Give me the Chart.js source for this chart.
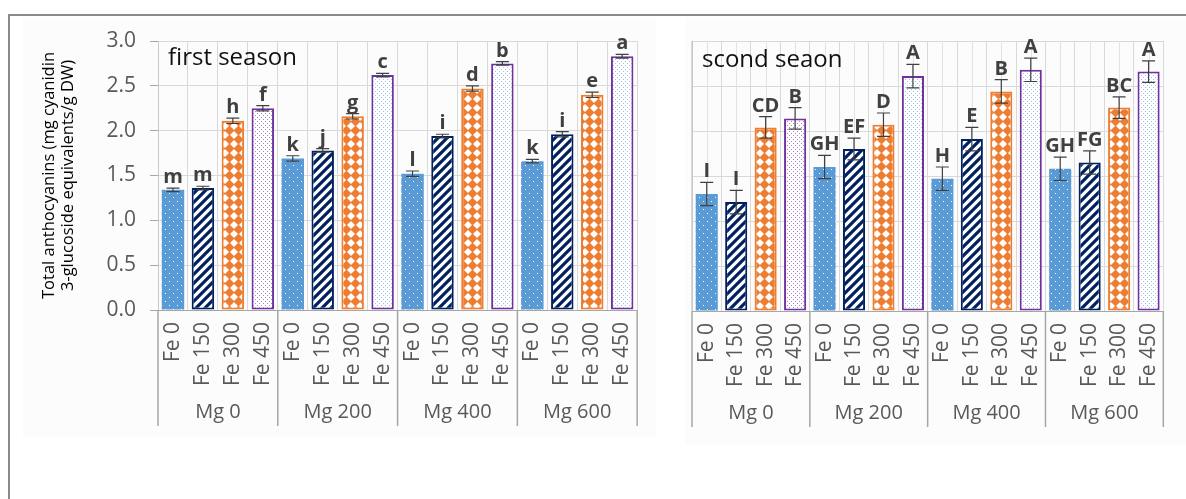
<!DOCTYPE html>
<html>
<head>
<meta charset="utf-8">
<script src="https://cdn.jsdelivr.net/npm/chart.js@4"></script>
<style>
  body { margin: 0; background: #fff; width: 1186px; height: 499px; overflow: hidden; position: relative; }
  #frame { position: absolute; left: 8px; top: 14px; width: 1300px; height: 600px; border-top: 2px solid #8a8a8a; border-left: 2px solid #8a8a8a; }
  .panel { position: absolute; background: #fcfcfc; }
  #p1 { left: 23px; top: 17px; width: 633px; height: 420px; }
  #p2 { left: 685px; top: 17px; width: 501px; height: 428px; }
  #c1 { position: absolute; left: 0; top: 0; }
  #c2 { position: absolute; left: 670px; top: 0; }
</style>
</head>
<body>
<div id="frame"></div>
<div class="panel" id="p1"></div>
<div class="panel" id="p2"></div>
<canvas id="c1" width="660" height="499"></canvas>
<canvas id="c2" width="516" height="499"></canvas>
<script>
(function () {
  const groups = ["Mg 0", "Mg 200", "Mg 400", "Mg 600"];
  const feLevels = ["Fe 0", "Fe 150", "Fe 300", "Fe 450"];
  const yTicks = [0, 0.5, 1, 1.5, 2, 2.5, 3];

  const firstSeason = [1.34, 1.36, 2.11, 2.25, 1.69, 1.78, 2.16, 2.62, 1.52, 1.94, 2.47, 2.75, 1.66, 1.96, 2.40, 2.83];
  const firstErr = [0.02, 0.02, 0.03, 0.03, 0.03, 0.02, 0.03, 0.02, 0.03, 0.02, 0.03, 0.02, 0.02, 0.03, 0.03, 0.02];
  const firstLetters = ["m", "m", "h", "f", "k", "j", "g", "c", "l", "i", "d", "b", "k", "i", "e", "a"];

  const secondSeason = [1.30, 1.21, 2.04, 2.14, 1.60, 1.80, 2.07, 2.61, 1.47, 1.91, 2.44, 2.68, 1.58, 1.65, 2.26, 2.66];
  const secondErr = [0.13, 0.13, 0.12, 0.12, 0.13, 0.12, 0.13, 0.13, 0.13, 0.13, 0.13, 0.13, 0.13, 0.13, 0.12, 0.12];
  const secondLetters = ["I", "I", "CD", "B", "GH", "EF", "D", "A", "H", "E", "B", "A", "GH", "FG", "BC", "A"];

  const labels = [];
  groups.forEach(() => feLevels.forEach((f) => labels.push(f)));

  function pattern(w, h, draw) {
    const c = document.createElement("canvas");
    c.width = w;
    c.height = h;
    const g = c.getContext("2d");
    draw(g);
    return g.createPattern(c, "repeat");
  }

  const blueDots = pattern(8, 8, (g) => {
    g.fillStyle = "#5b9bd5";
    g.fillRect(0, 0, 8, 8);
    g.fillStyle = "#ffffff";
    g.fillRect(1, 1, 1, 1);
    g.fillRect(5, 5, 1, 1);
  });
  const stripes = pattern(9, 9, (g) => {
    g.fillStyle = "#ffffff";
    g.fillRect(0, 0, 9, 9);
    g.strokeStyle = "#002060";
    g.lineWidth = 3.2;
    g.beginPath();
    g.moveTo(-2, 11); g.lineTo(11, -2);
    g.moveTo(-6, 6); g.lineTo(6, -6);
    g.moveTo(3, 15); g.lineTo(15, 3);
    g.stroke();
  });
  const diamonds = pattern(9, 9, (g) => {
    g.fillStyle = "#ffffff";
    g.fillRect(0, 0, 9, 9);
    g.fillStyle = "#ed7d31";
    g.beginPath();
    g.moveTo(4.5, -0.5); g.lineTo(9.5, 4.5); g.lineTo(4.5, 9.5); g.lineTo(-0.5, 4.5);
    g.closePath();
    g.fill();
  });
  const fineDots = (col) => pattern(4, 4, (g) => {
    g.fillStyle = "#ffffff";
    g.fillRect(0, 0, 4, 4);
    g.fillStyle = col;
    g.fillRect(1, 1, 1, 1);
    g.fillRect(3, 3, 1, 1);
  });
  const lightDots = fineDots("#9dc3e6");
  const purpleDots = fineDots("#a784c8");

  const fills = [() => blueDots, () => stripes, () => diamonds, (i) => (i < 4 ? purpleDots : lightDots)];
  const borders = ["#5b9bd5", "#002060", "#ed7d31", "#7030a0"];
  const borderW = [0, 2, 2, 2];

  const extras = {
    id: "extras",
    beforeDatasetsDraw(chart, args, o) {
      if (!o.midLines) return;
      const { ctx, chartArea: a, scales: { x } } = chart;
      ctx.save();
      ctx.strokeStyle = "#e3e3e3";
      ctx.lineWidth = 1;
      ctx.beginPath();
      labels.forEach((l, i) => {
        const px = Math.round(x.getPixelForValue(i)) + 0.5;
        ctx.moveTo(px, a.top);
        ctx.lineTo(px, a.bottom);
      });
      ctx.stroke();
      ctx.restore();
    },
    afterDatasetsDraw(chart, args, o) {
      const { ctx, scales: { y } } = chart;
      const meta = chart.getDatasetMeta(0);
      const vals = chart.data.datasets[0].data;
      ctx.save();
      ctx.strokeStyle = "#404040";
      ctx.lineWidth = 1.2;
      vals.forEach((v, i) => {
        const px = meta.data[i].x;
        const yt = y.getPixelForValue(v + o.errors[i]);
        const yb = y.getPixelForValue(v - o.errors[i]);
        ctx.beginPath();
        ctx.moveTo(px, yt); ctx.lineTo(px, yb);
        ctx.moveTo(px - 6.5, yt); ctx.lineTo(px + 6.5, yt);
        ctx.moveTo(px - 6.5, yb); ctx.lineTo(px + 6.5, yb);
        ctx.stroke();
      });
      ctx.fillStyle = "#404040";
      ctx.font = "bold 20px 'Open Sans'";
      ctx.textAlign = "center";
      ctx.textBaseline = "alphabetic";
      vals.forEach((v, i) => {
        const px = meta.data[i].x;
        ctx.fillText(o.letters[i], px, y.getPixelForValue(v + o.errors[i]) - 5);
      });
      ctx.restore();
    },
    afterDraw(chart, args, o) {
      const { ctx, chartArea: a, scales: { x } } = chart;
      const step = x.getPixelForValue(1) - x.getPixelForValue(0);
      ctx.save();
      ctx.strokeStyle = "#a6a6a6";
      ctx.lineWidth = 1.5;
      ctx.beginPath();
      for (let g = 0; g <= groups.length; g++) {
        const px = x.getPixelForValue(g * 4) - step / 2;
        ctx.moveTo(px, a.bottom);
        ctx.lineTo(px, a.bottom + 116);
      }
      ctx.stroke();
      ctx.fillStyle = "#595959";
      ctx.font = "20px 'Open Sans'";
      ctx.textAlign = "center";
      ctx.textBaseline = "middle";
      groups.forEach((g, k) => {
        const cx = (x.getPixelForValue(k * 4) + x.getPixelForValue(k * 4 + 3)) / 2;
        ctx.fillText(g, cx, a.bottom + 102);
      });
      ctx.fillStyle = "#111111";
      ctx.font = "24px 'Open Sans'";
      ctx.textAlign = "left";
      ctx.textBaseline = "alphabetic";
      ctx.fillText(o.title, a.left + 10, o.titleY);
      ctx.restore();
    },
  };

  function makeChart(id, values, errs, letters, opt) {
    return new Chart(document.getElementById(id), {
      type: "bar",
      data: {
        labels: labels,
        datasets: [
          {
            data: values,
            backgroundColor: values.map((v, i) => fills[i % 4](i)),
            borderColor: values.map((v, i) => borders[i % 4]),
            borderWidth: values.map((v, i) => borderW[i % 4]),
            borderSkipped: false,
            barPercentage: 0.75,
            categoryPercentage: 1,
          },
        ],
      },
      options: {
        responsive: false,
        animation: false,
        layout: { padding: opt.padding },
        plugins: {
          legend: { display: false },
          tooltip: { enabled: false },
          extras: { errors: errs, letters: letters, title: opt.title, titleY: opt.titleY, midLines: opt.midLines },
        },
        scales: {
          x: {
            offset: true,
            grid: { offset: true, color: "#d9d9d9", drawTicks: false },
            border: { color: "#a6a6a6" },
            ticks: {
              autoSkip: false,
              minRotation: 90,
              maxRotation: 90,
              padding: 12,
              color: "#595959",
              font: { family: "Open Sans", size: 21 },
            },
            afterFit: (s) => { s.height = opt.xHeight; },
          },
          y: {
            min: 0,
            max: 3,
            afterBuildTicks: (s) => { s.ticks = yTicks.map((v) => ({ value: v })); },
            grid: { color: "#d9d9d9", drawTicks: opt.showY, tickLength: 8, tickColor: "#a6a6a6" },
            border: { color: "#c8c8c8" },
            ticks: {
              display: opt.showY,
              padding: 14,
              color: "#595959",
              font: { family: "Open Sans", size: 21 },
              callback: (v) => Number(v).toFixed(1),
            },
            title: {
              display: opt.showY,
              text: ["Total anthocyanins (mg cyanidin", "3-glucoside equivalents/g DW)"],
              color: "#000000",
              font: { family: "Open Sans", size: 16.5 },
              padding: { top: 9, bottom: 0 },
            },
            afterFit: (s) => { s.width = opt.yWidth; },
          },
        },
      },
      plugins: [extras],
    });
  }

  makeChart("c1", firstSeason, firstErr, firstLetters, {
    padding: { top: 41, left: 30, right: 20, bottom: 0 },
    yWidth: 128,
    xHeight: 189,
    showY: true,
    title: "first season",
    titleY: 65,
    midLines: false,
  });
  makeChart("c2", secondSeason, secondErr, secondLetters, {
    padding: { top: 41, left: 0, right: 7, bottom: 0 },
    yWidth: 22,
    xHeight: 188,
    showY: false,
    title: "scond seaon",
    titleY: 67,
    midLines: true,
  });
})();
</script>
</body>
</html>
